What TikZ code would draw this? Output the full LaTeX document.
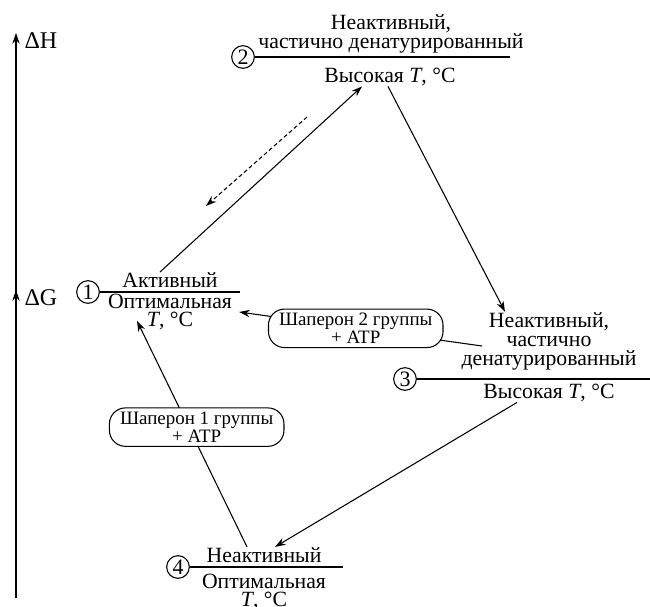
\documentclass[tikz,border=0pt]{standalone}
\usepackage{fontspec}
\setmainfont{Liberation Serif}
\usepackage{tikz}
\usetikzlibrary{arrows.meta, positioning}
\tikzstyle{num}=[circle, draw, line width=0.8pt, inner sep=0pt, minimum size=17pt, font=\fontsize{16.5}{16.5}\selectfont]
\tikzstyle{state}=[align=center, inner sep=0pt, font=\fontsize{16.3}{14.2}\selectfont]
\tikzstyle{axislabel}=[anchor=west, inner sep=0pt, font=\fontsize{18}{18}\selectfont]
\tikzstyle{level}=[line width=1.4pt]
\tikzstyle{chaperone}=[draw, fill=white, rounded corners=12pt, align=center, inner xsep=8pt, inner ysep=3pt, line width=0.8pt, font=\fontsize{14.2}{12}\selectfont]

\begin{document}
\begin{tikzpicture}[x=0.75pt, y=-0.75pt, >={Stealth[length=8pt, width=5.5pt]}, line width=0.8pt]
      \useasboundingbox (0,0) rectangle (650,607);

      % energy axis
      \coordinate (o) at (16,598);
      \coordinate (tipH) at (16,33);
      \coordinate (tipG) at (16,290);
      \draw[->] (o) -- (tipH);
      \draw[->] (o) -- (tipG);
      \node[axislabel] (dH) at (24,41) {ΔH};
      \node[axislabel] (dG) at (24,298) {ΔG};

      % levels
      \node[num] (n1) at (88,292) {1};
      \coordinate (l1) at (240,292);
      \draw[level] (n1) -- (l1);
      \node[state] (s1a) at (170,280) {Активный};
      \node[state] (s1b) at (170,312) {Оптимальная\\\textit{T}, °C};

      \node[num] (n2) at (243,57) {2};
      \coordinate (l2) at (510,57);
      \draw[level] (n2) -- (l2);
      \node[state] (s2a) at (391,34) {Неактивный,\\частично денатурированный};
      \node[state] (s2b) at (390,77) {Высокая \textit{T}, °C};

      \node[num] (n3) at (405,379) {3};
      \coordinate (l3) at (650,379);
      \draw[level] (n3) -- (l3);
      \node[state] (s3a) at (549,341) {Неактивный,\\частично\\денатурированный};
      \node[state] (s3b) at (549,393) {Высокая \textit{T}, °C};

      \node[num] (n4) at (178,567) {4};
      \coordinate (l4) at (343,567);
      \draw[level] (n4) -- (l4);
      \node[state] (s4a) at (264,555) {Неактивный};
      \node[state] (s4b) at (264,592) {Оптимальная\\\textit{T}, °C};

      % transitions
      \coordinate (d1) at (307,117);
      \coordinate (d2) at (206,206);
      \draw[->] ([xshift=-7.5pt]s1a.north) -- ([xshift=-21pt]s2b.south);
      \draw[->, dash pattern=on 3pt off 2pt] (d1) -- (d2);
      \draw[->] ([xshift=-1.5pt]s2b.south) -- ([xshift=-33pt]s3a.north);
      \draw[->] ([xshift=-24pt]s3b.south) -- ([xshift=8.25pt]s4a.north);
      \draw[->] ([xshift=-12.75pt]s4a.north) -- node[chaperone, pos=0.53, xshift=6pt] (c1) {Шаперон 1 группы\\+ ATP} ([xshift=-24.75pt, yshift=7.5pt]s1b.south);
      \draw[->] ([xshift=15.75pt, yshift=-3.75pt]s3a.west) -- node[chaperone, pos=0.52] (c2) {Шаперон 2 группы\\+ ATP} ([xshift=5pt]s1b.east);
\end{tikzpicture}
\end{document}
